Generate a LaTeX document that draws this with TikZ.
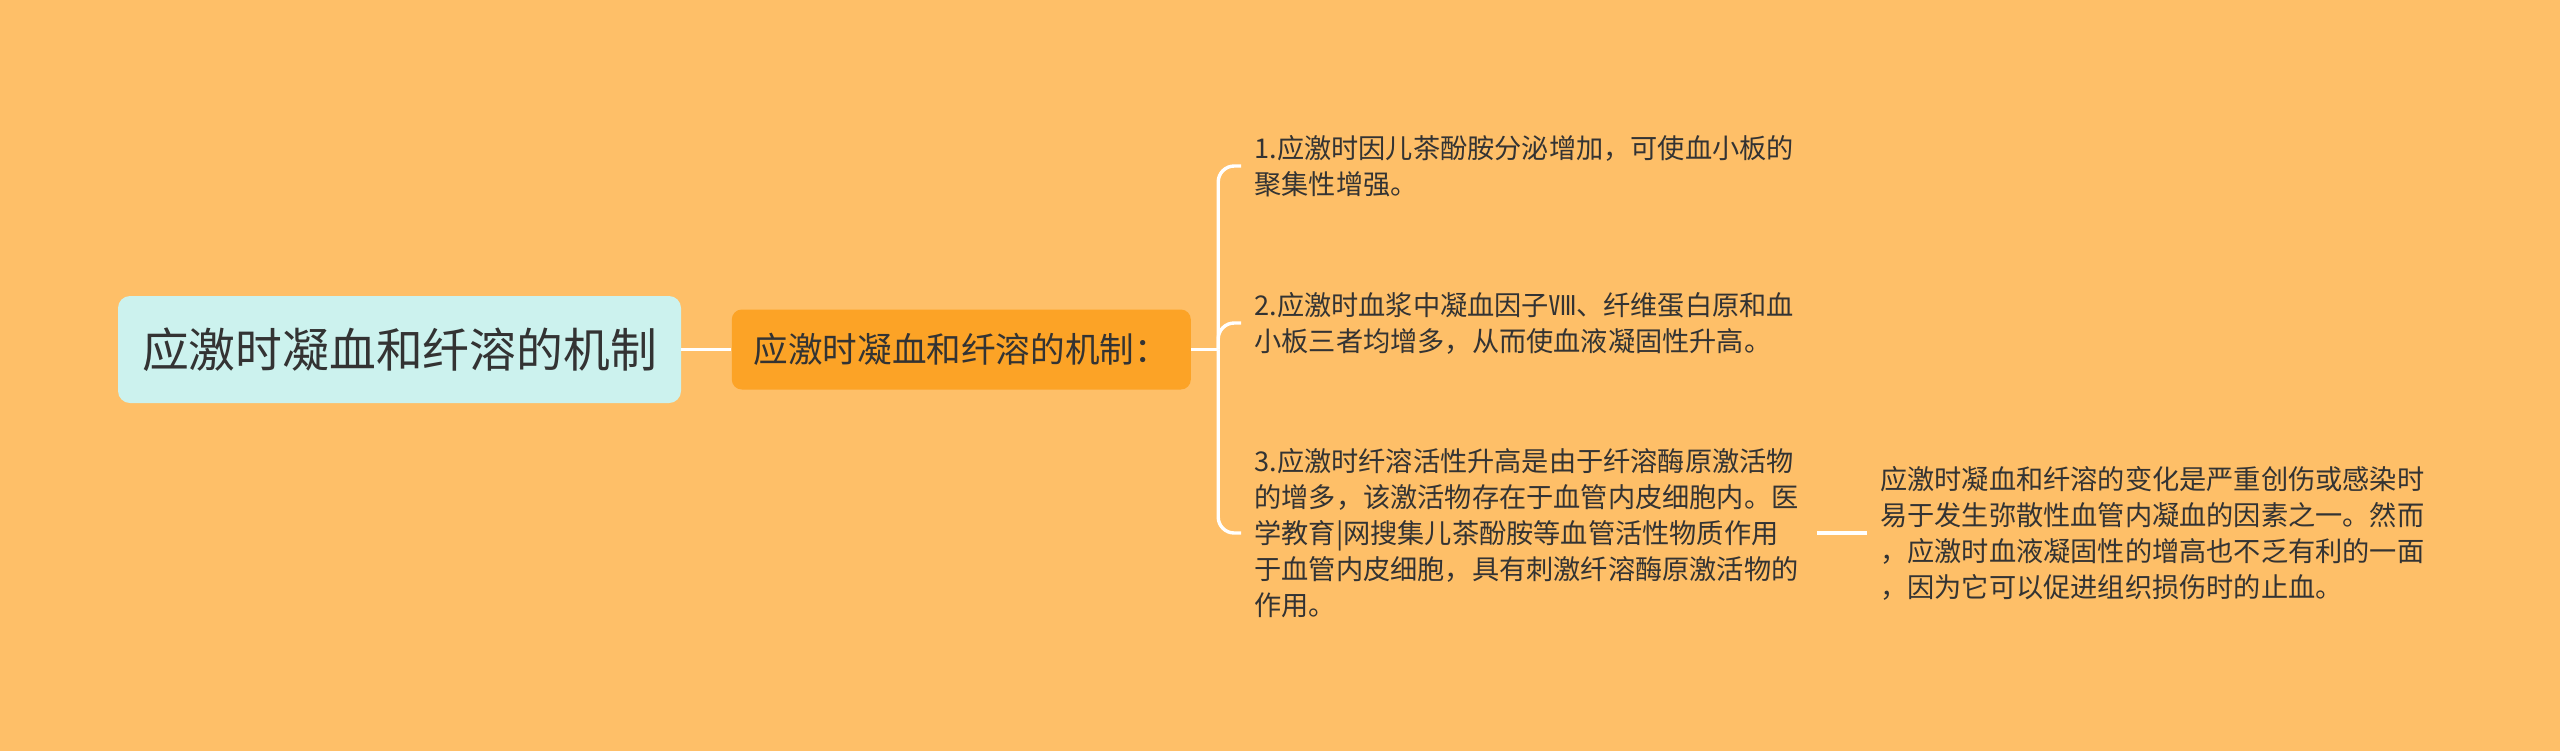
\documentclass[tikz,border=0pt]{standalone}
\usepackage{fontspec}
\setmainfont{Noto Sans CJK SC}
\usetikzlibrary{positioning}
\definecolor{bgcol}{HTML}{FEBF68}
\definecolor{rootcol}{HTML}{CCF2EE}
\definecolor{subcol}{HTML}{FCA326}
\definecolor{txtcol}{HTML}{333333}
\tikzstyle{rootbox}=[rectangle, rounded corners=6pt, fill=rootcol, text=txtcol, inner sep=0pt,
minimum width=281.5pt, minimum height=53.5pt, font=\fontsize{23.4pt}{28pt}\selectfont]
\tikzstyle{subbox}=[rectangle, rounded corners=5pt, fill=subcol, text=txtcol, inner sep=0pt,
minimum width=229.5pt, minimum height=40pt, font=\fontsize{17.3pt}{21pt}\selectfont]
\tikzstyle{leaf}=[rectangle, text=txtcol, inner xsep=6.5pt, inner ysep=2pt, align=left,
font=\fontsize{13.6pt}{18pt}\selectfont]
\tikzstyle{line}=[-, white, line width=1.7pt]

\begin{document}
\begin{tikzpicture}[x=0.5pt, y=-0.5pt, node distance=0mm]
\fill[bgcol] (0,0) rectangle (2560,751);
\useasboundingbox (0,0) rectangle (2560,751);

% root and first level
    \node (root) [rootbox] at (399.5,349.5) {应激时凝血和纤溶的机制};
    \node (mech) [subbox, right=25pt of root] {应激时凝血和纤溶的机制：};
    \coordinate (spine) at ([xshift=13.5pt]mech.east);

% the three points
    \node (pt1) [leaf, anchor=west] at (1241,166) {1.应激时因儿茶酚胺分泌增加，可使血小板的\\聚集性增强。};
    \node (pt2) [leaf, anchor=west] at (1241,323) {2.应激时血浆中凝血因子Ⅷ、纤维蛋白原和血\\小板三者均增多，从而使血液凝固性升高。};
    \node (pt3) [leaf, anchor=west] at (1241,533) {3.应激时纤溶活性升高是由于纤溶酶原激活物\\的增多，该激活物存在于血管内皮细胞内。医\\学教育|网搜集儿茶酚胺等血管活性物质作用\\于血管内皮细胞，具有刺激纤溶酶原激活物的\\作用。};

% note on point 3
    \node (note) [leaf, right=25pt of pt3, xshift=2.5pt] {应激时凝血和纤溶的变化是严重创伤或感染时\\易于发生弥散性血管内凝血的因素之一。然而\\，应激时血液凝固性的增高也不乏有利的一面\\，因为它可以促进组织损伤时的止血。};

\draw[line] (root.east) -- (mech.west);
\draw[line] (mech.east) -- (spine);
\draw[line, rounded corners=8pt] (spine) |- (pt1.west);
\draw[line, rounded corners=8pt] (spine) |- (pt2.west);
\draw[line, rounded corners=8pt] (spine) |- (pt3.west);
\draw[line] ([xshift=2.5pt]pt3.east) -- (note.west);

\end{tikzpicture}
\end{document}
